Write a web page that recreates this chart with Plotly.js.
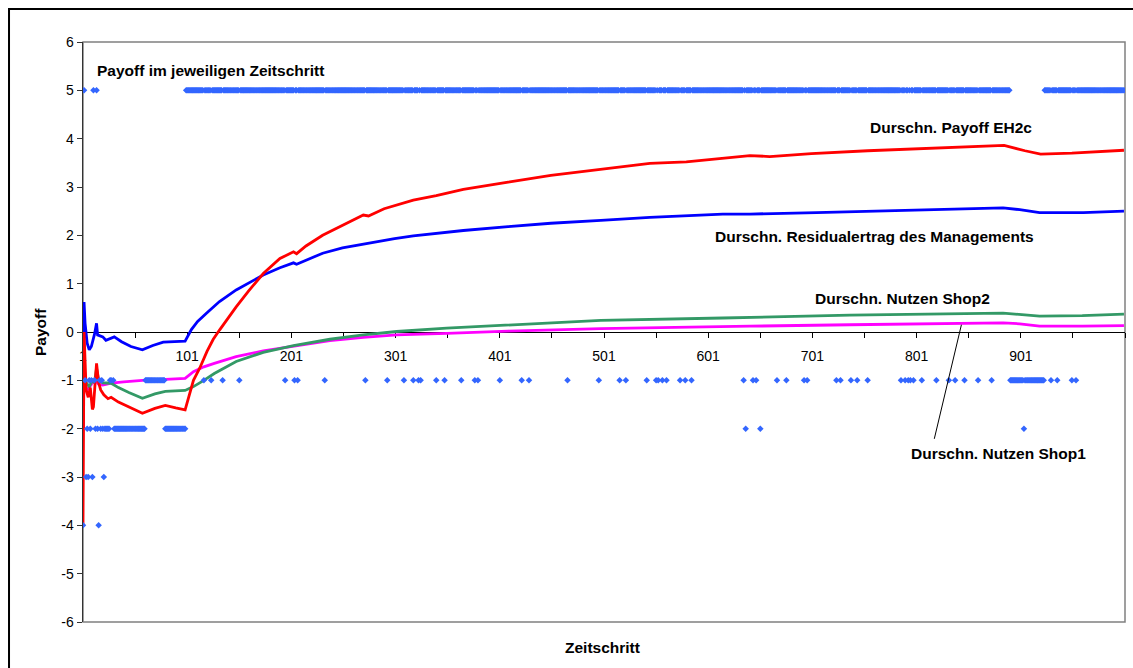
<!DOCTYPE html>
<html>
<head>
<meta charset="utf-8">
<script src="https://cdn.plot.ly/plotly-3.0.1.min.js"></script>
<style>html,body{margin:0;padding:0;background:#fff;}#chart{width:1133px;height:668px;}</style>
</head>
<body>
<div id="chart"></div>
<script>
// ---- Data ----
// Running averages (step, value) sampled along each curve
const redSteps   = [1,2,3,4,6,8,10,11,14,16,18,21,25,28,35,45,58,70,80,90,99,107,113,120,126,132,140,148,160,174,190,200,203,206,215,231,250,270,275,290,318,340,366,390,409,450,498,545,580,615,641,660,700,754,800,850,885,905,920,950,1000];
const redValues  = [-4.0,0.0,-0.6,-1.2,-1.35,-1.15,-1.6,-1.55,-0.65,-1.05,-1.2,-1.3,-1.38,-1.35,-1.45,-1.55,-1.68,-1.58,-1.52,-1.57,-1.61,-1.0,-0.75,-0.4,-0.15,0.04,0.28,0.52,0.85,1.21,1.52,1.63,1.66,1.62,1.78,2.0,2.2,2.42,2.40,2.55,2.73,2.82,2.95,3.04,3.10,3.24,3.37,3.49,3.52,3.60,3.65,3.63,3.69,3.75,3.79,3.82,3.86,3.75,3.68,3.70,3.76];

const blueSteps  = [1,2,3,5,7,9,12,14,15,20,23,28,31,38,47,58,68,78,99,105,111,120,132,148,160,174,190,200,203,206,215,231,250,270,300,318,366,409,450,498,545,615,641,705,801,884,900,919,961,1000];
const blueValues = [-2.0,0.62,0.18,-0.23,-0.37,-0.3,-0.05,0.18,-0.06,-0.1,-0.17,-0.12,-0.1,-0.2,-0.3,-0.37,-0.28,-0.21,-0.19,0.05,0.22,0.4,0.63,0.87,1.02,1.18,1.33,1.41,1.43,1.40,1.48,1.63,1.74,1.82,1.93,1.99,2.10,2.18,2.25,2.31,2.37,2.44,2.44,2.47,2.53,2.57,2.53,2.47,2.47,2.50];

const greenSteps  = [1,2,4,7,10,12,14,16,20,28,35,45,58,70,80,99,107,117,127,148,174,203,238,270,302,350,409,498,615,641,737,884,900,919,960,1000];
const greenValues = [-0.6,-0.75,-1.05,-1.13,-1.0,-1.05,-0.75,-1.0,-1.05,-1.06,-1.15,-1.25,-1.37,-1.28,-1.23,-1.21,-1.13,-1.0,-0.86,-0.61,-0.42,-0.28,-0.15,-0.06,0.01,0.08,0.15,0.24,0.29,0.30,0.35,0.39,0.36,0.33,0.34,0.37];

const magentaSteps  = [1,2,3,5,7,10,13,16,20,28,40,58,80,99,107,117,127,148,174,203,238,270,302,350,409,498,615,641,737,884,900,919,960,1000];
const magentaValues = [-2.0,-1.0,-1.1,-1.2,-1.15,-1.05,-1.0,-1.08,-1.1,-1.06,-1.03,-1.0,-0.98,-0.96,-0.82,-0.72,-0.65,-0.51,-0.39,-0.29,-0.18,-0.11,-0.06,-0.03,0.02,0.07,0.12,0.12,0.15,0.19,0.17,0.12,0.12,0.13];

// Payoff in each step: runs of consecutive steps with the same payoff, and single steps
const payoff5Runs      = [[100, 890], [924, 1000]];
const payoff5Steps     = [2, 11, 14];
const payoffM1Runs     = [[61, 79], [891, 923]];
const payoffM1Steps    = [3,7,9,12,17,19,27,28,30,117,124,135,151,195,204,207,233,272,293,309,318,323,325,340,348,364,377,380,401,422,429,466,496,516,522,542,551,553,557,561,574,579,585,635,644,647,667,676,693,696,724,728,738,744,754,786,790,793,795,798,806,820,832,838,847,860,873,930,936,950,954];
const payoffM2Runs     = [[22, 26], [31, 60], [80, 99]];
const payoffM2Steps    = [5,8,13,15,18,20,637,651,904];
const payoffM3Steps    = [4,6,10,21];
const payoffM4Steps    = [1,16];

const xTickVals   = [1,101,201,301,401,501,601,701,801,901];
const xTickLabels = ['1','101','201','301','401','501','601','701','801','901'];
const yTickVals   = [-6,-5,-4,-3,-2,-1,0,1,2,3,4,5,6];
const yTickLabels = ['-6','-5','-4','-3','-2','-1','0','1','2','3','4','5','6'];

// ---- Build the per-step payoff series ----
const payoffByStep = {};
function setRuns(runs, v){ runs.forEach(r => { for (let s = r[0]; s <= r[1]; s++) payoffByStep[s] = v; }); }
function setSteps(steps, v){ steps.forEach(s => { payoffByStep[s] = v; }); }
setRuns(payoff5Runs, 5); setRuns(payoffM1Runs, -1); setRuns(payoffM2Runs, -2);
setSteps(payoff5Steps, 5); setSteps(payoffM1Steps, -1); setSteps(payoffM2Steps, -2);
setSteps(payoffM3Steps, -3); setSteps(payoffM4Steps, -4);
const payoffX = Object.keys(payoffByStep).map(Number).sort((a,b)=>a-b);
const payoffY = payoffX.map(s => payoffByStep[s]);

const lineW = 2.8;
const traces = [
  {x: magentaSteps, y: magentaValues, mode:'lines', line:{color:'#FF00FF', width:lineW}, name:'Durschn. Nutzen Shop1'},
  {x: greenSteps,   y: greenValues,   mode:'lines', line:{color:'#339966', width:lineW}, name:'Durschn. Nutzen Shop2'},
  {x: blueSteps,    y: blueValues,    mode:'lines', line:{color:'#0000FF', width:lineW}, name:'Durschn. Residualertrag des Managements'},
  {x: redSteps,     y: redValues,     mode:'lines', line:{color:'#FF0000', width:lineW}, name:'Durschn. Payoff EH2c'},
  {x: payoffX,      y: payoffY,       mode:'markers', marker:{symbol:'diamond', size:5, color:'#3366FF', line:{width:0}}, name:'Payoff im jeweiligen Zeitschritt'}
];

const lblFont = {family:'Arial, Liberation Sans, sans-serif', size:15.5, color:'#000'};
const layout = {
  width:1133, height:668,
  margin:{l:83, r:8, t:42, b:46},
  paper_bgcolor:'#fff', plot_bgcolor:'#fff',
  showlegend:false,
  font:{family:'Arial, Liberation Sans, sans-serif', color:'#000'},
  xaxis:{
    range:[1,1001], anchor:'free', position:0.5,
    showline:true, linecolor:'#000', linewidth:1,
    showgrid:false, zeroline:false,
    tickmode:'array', tickvals:xTickVals, ticktext:xTickLabels,
    ticks:'outside', ticklen:5, tickcolor:'#000', tickwidth:1,
    minor:{tickmode:'linear', tick0:1, dtick:50, ticks:'outside', ticklen:5, tickcolor:'#000', tickwidth:1, showgrid:false},
    tickfont:{size:14, color:'#000'}, ticklabelstandoff:6,
    layer:'below traces'
  },
  yaxis:{
    range:[-6,6], showline:true, linecolor:'#333', linewidth:1.5,
    showgrid:false, zeroline:false,
    tickmode:'array', tickvals:yTickVals, ticktext:yTickLabels,
    ticks:'outside', ticklen:5, tickcolor:'#333', tickwidth:1,
    tickfont:{size:14, color:'#000'}
  },
  shapes:[
    {type:'rect', xref:'paper', yref:'paper', x0:0, x1:1, y0:0, y1:1, line:{color:'#808080', width:1.5}, layer:'below'},
    {type:'rect', xref:'paper', yref:'paper', x0:-0.0710, x1:1.02, y0:-0.12, y1:1.0569, line:{color:'#000', width:2}, fillcolor:'rgba(0,0,0,0)'},
    {type:'line', xref:'x', yref:'y', x0:818, y0:-2.21, x1:844, y1:0.15, line:{color:'#000', width:1}}
  ],
  annotations:[
    {xref:'x', yref:'y', x:12.5, y:5.42, xanchor:'left', yanchor:'middle', text:'<b>Payoff im jeweiligen Zeitschritt</b>', showarrow:false, font:lblFont},
    {xref:'x', yref:'y', x:754.8, y:4.225, xanchor:'left', yanchor:'middle', text:'<b>Durschn. Payoff EH2c</b>', showarrow:false, font:lblFont},
    {xref:'x', yref:'y', x:605.6, y:1.97, xanchor:'left', yanchor:'middle', text:'<b>Durschn. Residualertrag des Managements</b>', showarrow:false, font:lblFont},
    {xref:'x', yref:'y', x:701.3, y:0.70, xanchor:'left', yanchor:'middle', text:'<b>Durschn. Nutzen Shop2</b>', showarrow:false, font:lblFont},
    {xref:'x', yref:'y', x:793.7, y:-2.52, xanchor:'left', yanchor:'middle', text:'<b>Durschn. Nutzen Shop1</b>', showarrow:false, font:lblFont},
    {xref:'paper', yref:'paper', x:0.499, y:-0.0448, xanchor:'center', yanchor:'middle', text:'<b>Zeitschritt</b>', showarrow:false, font:lblFont},
    {xref:'paper', yref:'paper', x:-0.0413, y:0.5, xanchor:'center', yanchor:'middle', textangle:-90, text:'<b>Payoff</b>', showarrow:false, font:lblFont}
  ]
};

Plotly.newPlot('chart', traces, layout, {staticPlot:true, displayModeBar:false});
</script>
</body>
</html>
